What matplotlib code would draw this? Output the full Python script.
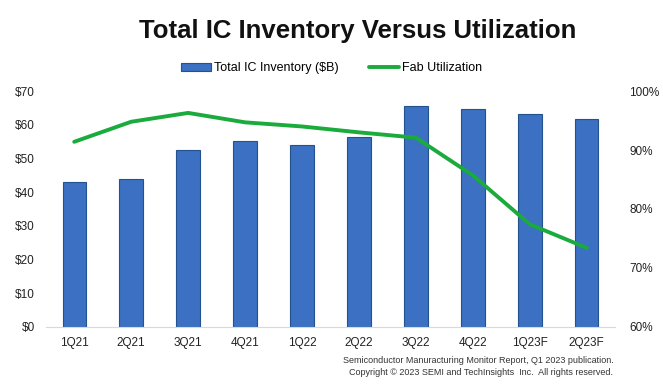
import matplotlib.pyplot as plt
import numpy as np

plt.rcParams['font.family'] = ['Liberation Sans', 'DejaVu Sans']

quarters = ['1Q21', '2Q21', '3Q21', '4Q21', '1Q22', '2Q22', '3Q22', '4Q22', '1Q23F', '2Q23F']
inventory = [43, 44, 52.5, 55.2, 54, 56.5, 65.6, 64.8, 63.2, 61.8]
utilization = [91.4, 94.8, 96.3, 94.7, 94.0, 93.0, 92.1, 85.7, 77.4, 73.4]

fig = plt.figure(figsize=(6.63, 3.91), dpi=100)
ax = fig.add_axes([0.069, 0.164, 0.859, 0.603])
ax2 = ax.twinx()

x = np.arange(len(quarters))
bars = ax.bar(x, inventory, width=0.41, color='#3b70c2', edgecolor='#24528f',
              linewidth=0.8, label='Total IC Inventory ($B)', zorder=2)
line, = ax2.plot(x, utilization, color='#1aab3c', lw=2.8, label='Fab Utilization',
                 solid_capstyle='round', zorder=3)

ax.set_xlim(-0.5, len(quarters) - 0.5)
ax.set_ylim(0, 70)
ax2.set_ylim(60, 100)
ax.set_yticks(range(0, 71, 10))
ax.set_yticklabels(['${}'.format(v) for v in range(0, 71, 10)])
ax2.set_yticks(range(60, 101, 10))
ax2.set_yticklabels(['{}%'.format(v) for v in range(60, 101, 10)])
ax.set_xticks(x)
ax.set_xticklabels(quarters)

for a in (ax, ax2):
    for s in ['top', 'left', 'right', 'bottom']:
        a.spines[s].set_visible(False)
    a.tick_params(length=0, labelsize=8.5, colors='#222222')
ax.spines['bottom'].set_visible(True)
ax.spines['bottom'].set_color('#d9d9d9')
ax.tick_params(axis='y', pad=8)
ax.tick_params(axis='x', pad=7)
ax2.tick_params(axis='y', pad=10)

fig.text(0.54, 0.92, 'Total IC Inventory Versus Utilization', ha='center', va='center',
         fontsize=18.5, fontweight='bold', color='#111111')
fig.legend([bars, line], ['Total IC Inventory ($B)', 'Fab Utilization'],
           loc='center', bbox_to_anchor=(0.5, 0.825), ncol=2, frameon=False,
           fontsize=9, handlelength=2.4, handletextpad=0.2, columnspacing=2.5)

fig.text(0.925, 0.077, 'Semiconductor Manuracturing Monitor Report, Q1 2023 publication.',
         ha='right', va='center', fontsize=6.5, color='#333333')
fig.text(0.925, 0.047, 'Copyright \u00a9 2023 SEMI and TechInsights  Inc.  All rights reserved.',
         ha='right', va='center', fontsize=6.5, color='#333333')

plt.savefig('out.png', dpi=100)
